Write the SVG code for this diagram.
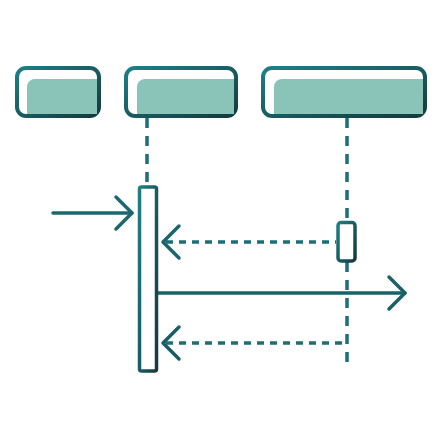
<svg xmlns="http://www.w3.org/2000/svg" width="441" height="440" viewBox="0 0 441 440">
<defs>
<linearGradient id="g" x1="0" y1="0" x2="1" y2="1">
<stop offset="0" stop-color="#1e7f86"/>
<stop offset="1" stop-color="#143a3f"/>
</linearGradient>
<linearGradient id="gu" gradientUnits="userSpaceOnUse" x1="0" y1="0" x2="0" y2="440">
<stop offset="0" stop-color="#1e7a80"/>
<stop offset="1" stop-color="#17555a"/>
</linearGradient>
</defs>
<style>
.box{fill:#ffffff;stroke:url(#g);stroke-width:4}
.fill{fill:#8ac4b8}
.ln{fill:none;stroke:url(#gu);stroke-width:3.5;stroke-linecap:round;stroke-linejoin:round}
.ll{fill:none;stroke:#1d6f76;stroke-width:3.5;stroke-dasharray:10 8}
.dash{fill:none;stroke:#1d6f76;stroke-width:3.5;stroke-dasharray:7 6}
.act{fill:#ffffff;stroke:url(#g);stroke-width:3.5}
</style>
<g id="connectors">
<line class="ll" x1="147" y1="118" x2="147" y2="187"/>
<line class="ll" x1="347" y1="118" x2="347" y2="362"/>
<line class="dash" x1="166" y1="242" x2="336" y2="242"/>
<line class="dash" x1="166" y1="343" x2="345" y2="343"/>
<polyline class="ln" points="179,226 163,242 179,258"/>
<polyline class="ln" points="179,327 163,343 179,359"/>
<line class="ln" x1="53" y1="213" x2="132" y2="213"/>
<polyline class="ln" points="116,197 132,213 116,229"/>
<line class="ln" x1="157" y1="293" x2="405" y2="293"/>
<polyline class="ln" points="389,277 405,293 389,309"/>
</g>
<g id="node-a">
<rect class="box" x="17" y="68" width="82" height="48" rx="9"/>
<path class="fill" d="M27,87 a8,8 0 0 1 8,-8 H97 V114 H27 Z"/>
</g>
<g id="node-b">
<rect class="box" x="126" y="68" width="110" height="48" rx="9"/>
<path class="fill" d="M137,87 a8,8 0 0 1 8,-8 H234 V114 H137 Z"/>
</g>
<g id="node-c">
<rect class="box" x="263" y="68" width="162" height="48" rx="9"/>
<path class="fill" d="M274,87 a8,8 0 0 1 8,-8 H423 V114 H274 Z"/>
</g>
<g id="activation-b">
<rect class="act" x="139.5" y="187" width="17" height="184" rx="2"/>
</g>
<g id="activation-c">
<rect class="act" x="338" y="222.5" width="17" height="38.5" rx="3"/>
</g>
</svg>
